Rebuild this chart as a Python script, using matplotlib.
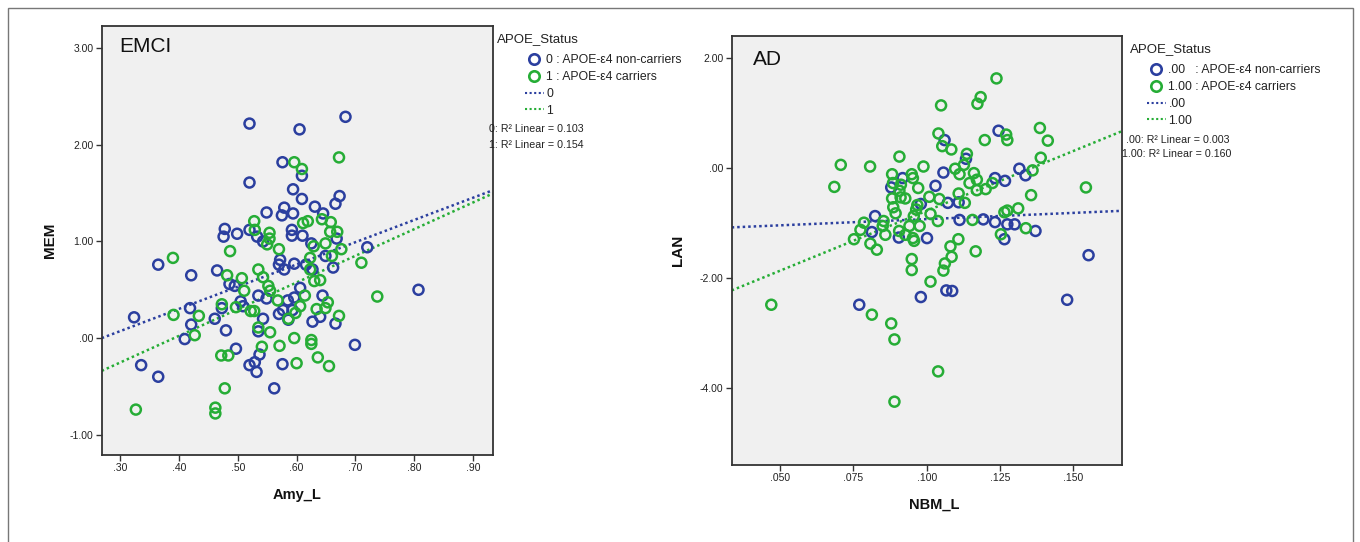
import matplotlib
matplotlib.use("Agg")
import matplotlib.pyplot as plt
from matplotlib.lines import Line2D
from matplotlib.patches import Rectangle
import numpy as np

plt.rcParams['font.family'] = ['Liberation Sans', 'DejaVu Sans']

# ---------------- DATA ----------------
# EMCI panel: Amy_L (x) vs MEM (y)
emci_nc_x = [0.324, 0.336, 0.365, 0.365, 0.421, 0.419, 0.421, 0.410, 0.465, 0.461, 0.473, 0.480,
             0.497, 0.478, 0.476, 0.499, 0.486, 0.495, 0.505, 0.509, 0.520, 0.520, 0.520, 0.533,
             0.543, 0.549, 0.535, 0.549, 0.543, 0.535, 0.537, 0.520, 0.529, 0.532, 0.562, 0.576,
             0.576, 0.579, 0.575, 0.572, 0.570, 0.579, 0.577, 0.570, 0.585, 0.596, 0.586, 0.593,
             0.594, 0.594, 0.592, 0.592, 0.596, 0.605, 0.609, 0.609, 0.610, 0.606, 0.616, 0.627,
             0.631, 0.625, 0.627, 0.640, 0.644, 0.645, 0.649, 0.662, 0.666, 0.666, 0.673, 0.668,
             0.683, 0.699, 0.720, 0.807]
emci_nc_y = [0.215, -0.28, 0.76, -0.40, 0.65, 0.31, 0.14, -0.01, 0.70, 0.20, 0.31, 0.08,
             -0.11, 1.13, 1.05, 1.08, 0.56, 0.54, 0.38, 0.33, 2.22, 1.61, 1.12, 1.05,
             1.00, 1.30, 0.44, 0.41, 0.20, 0.07, -0.17, -0.28, -0.25, -0.35, -0.52, -0.27,
             1.82, 1.35, 1.27, 0.81, 0.76, 0.71, 0.29, 0.25, 0.39, 0.42, 0.19, 0.29,
             1.54, 1.29, 1.12, 1.06, 0.77, 2.16, 1.68, 1.44, 1.06, 0.52, 0.76, 0.71,
             1.36, 0.98, 0.17, 0.22, 0.44, 1.29, 0.85, 0.73, 0.15, 1.39, 1.47, 1.03,
             2.29, -0.07, 0.94, 0.50]
emci_c_x = [0.327, 0.390, 0.391, 0.427, 0.434, 0.462, 0.462, 0.478, 0.472, 0.484, 0.473, 0.482,
            0.487, 0.497, 0.507, 0.511, 0.522, 0.528, 0.528, 0.529, 0.535, 0.535, 0.541, 0.543,
            0.550, 0.554, 0.554, 0.552, 0.555, 0.555, 0.570, 0.568, 0.571, 0.586, 0.596, 0.609,
            0.596, 0.600, 0.598, 0.606, 0.611, 0.619, 0.614, 0.623, 0.623, 0.629, 0.630, 0.625,
            0.625, 0.634, 0.636, 0.640, 0.643, 0.649, 0.649, 0.653, 0.655, 0.658, 0.660, 0.657,
            0.669, 0.672, 0.672, 0.676, 0.710, 0.737]
emci_c_y = [-0.74, 0.83, 0.24, 0.03, 0.23, -0.72, -0.78, -0.52, -0.18, -0.18, 0.35, 0.65,
            0.90, 0.32, 0.62, 0.49, 0.28, 0.28, 1.21, 1.12, 0.71, 0.11, -0.09, 0.63,
            0.97, 1.09, 1.03, 0.54, 0.49, 0.06, 0.92, 0.39, -0.08, 0.20, 1.82, 1.75,
            0.00, -0.26, 0.26, 0.33, 1.19, 1.21, 0.44, 0.83, 0.71, 0.95, 0.59, -0.02,
            -0.06, 0.30, -0.20, 0.60, 1.23, 0.98, 0.31, 0.37, -0.29, 1.20, 0.85, 1.10,
            1.10, 1.87, 0.23, 0.92, 0.78, 0.43]
# fitted lines (slope, intercept)
emci_fit_nc = (2.304, -0.620)
emci_fit_c = (2.764, -1.083)
emci_r2 = ["0: R\u00b2 Linear = 0.103", "1: R\u00b2 Linear = 0.154"]
emci_labels = ["0 : APOE-\u03b54 non-carriers", "1 : APOE-\u03b54 carriers", "0", "1"]
emci_xticks = [0.30, 0.40, 0.50, 0.60, 0.70, 0.80, 0.90]
emci_xticklabels = [".30", ".40", ".50", ".60", ".70", ".80", ".90"]
emci_yticks = [-1.0, 0.0, 1.0, 2.0, 3.0]
emci_yticklabels = ["-1.00", ".00", "1.00", "2.00", "3.00"]

# AD panel: NBM_L (x) vs LAN (y)
ad_nc_x = [0.0770, 0.0824, 0.0813, 0.0879, 0.0918, 0.0905, 0.0980, 0.0980, 0.1001, 0.1030,
           0.1057, 0.1061, 0.1072, 0.1067, 0.1087, 0.1109, 0.1112, 0.1134, 0.1193, 0.1233,
           0.1233, 0.1245, 0.1267, 0.1265, 0.1275, 0.1300, 0.1316, 0.1337, 0.1371, 0.1479,
           0.1552]
ad_nc_y = [-2.48, -0.87, -1.16, -0.35, -0.18, -1.26, -0.65, -2.34, -1.27, -0.32,
           -0.08, 0.51, -0.63, -2.22, -2.23, -0.62, -0.94, 0.17, -0.93, -0.18,
           -0.98, 0.68, -0.23, -1.29, -1.02, -1.02, -0.01, -0.13, -1.14, -2.39,
           -1.58]
ad_c_x = [0.0470, 0.0685, 0.0707, 0.0807, 0.0907, 0.0752, 0.0774, 0.0786, 0.0808, 0.0830,
          0.0813, 0.0853, 0.0850, 0.0859, 0.0879, 0.0890, 0.0890, 0.0882, 0.0885, 0.0912,
          0.0882, 0.0927, 0.0886, 0.0894, 0.0907, 0.0911, 0.0906, 0.0927, 0.0941, 0.0949,
          0.0953, 0.0971, 0.0968, 0.0964, 0.0956, 0.0976, 0.0953, 0.0957, 0.0949, 0.0949,
          0.0989, 0.1009, 0.1013, 0.1013, 0.1038, 0.1043, 0.1039, 0.1040, 0.1049, 0.1053,
          0.1062, 0.1057, 0.1084, 0.1081, 0.1085, 0.1097, 0.1112, 0.1109, 0.1108, 0.1127,
          0.1130, 0.1137, 0.1146, 0.1156, 0.1161, 0.1171, 0.1171, 0.1167, 0.1173, 0.1184,
          0.1198, 0.1201, 0.1224, 0.1238, 0.1253, 0.1265, 0.1275, 0.1271, 0.1275, 0.1312,
          0.1338, 0.1356, 0.1361, 0.1386, 0.1389, 0.1413, 0.1543]
ad_c_y = [-2.48, -0.34, 0.06, 0.03, 0.21, -1.29, -1.12, -0.99, -1.37, -1.48,
          -2.66, -0.96, -1.05, -1.21, -2.82, -3.11, -4.24, -0.11, -0.27, -0.30,
          -0.55, -0.55, -0.71, -0.82, -0.41, -0.53, -1.14, -1.21, -1.05, -0.11,
          -0.18, -0.36, -0.67, -0.75, -0.87, -1.05, -1.27, -1.32, -1.65, -1.85,
          0.03, -0.52, -0.83, -2.06, -0.96, -0.56, -3.69, 0.63, 1.14, 0.40,
          -1.73, -1.86, 0.34, -1.42, -1.61, -0.01, -0.11, -0.46, -1.29, 0.06,
          -0.63, 0.26, -0.27, -0.94, -0.09, -0.21, -0.40, -1.51, 1.17, 1.29,
          0.51, -0.38, -0.27, 1.63, -1.20, -0.80, -0.77, 0.61, 0.51, -0.73,
          -1.09, -0.49, -0.04, 0.73, 0.19, 0.50, -0.35]
ad_fit_nc = (2.26, -1.151)
ad_fit_c = (21.73, -2.948)
ad_r2 = [".00: R\u00b2 Linear = 0.003", "1.00: R\u00b2 Linear = 0.160"]
ad_labels = [".00   : APOE-\u03b54 non-carriers", "1.00 : APOE-\u03b54 carriers", ".00", "1.00"]
ad_xticks = [0.050, 0.075, 0.100, 0.125, 0.150]
ad_xticklabels = [".050", ".075", ".100", ".125", ".150"]
ad_yticks = [-4.0, -2.0, 0.0, 2.0]
ad_yticklabels = ["-4.00", "-2.00", ".00", "2.00"]

# ---------------- STYLE ----------------
BLUE = '#2b3f9f'
GREEN = '#26ad36'
W, H = 1360, 542
fig = plt.figure(figsize=(W / 100, H / 100), dpi=100)
fig.patch.set_facecolor('white')


def px(x0, y0):
    return x0 / W, 1 - y0 / H


def panel(rect, xs, ys, fits, xlim, ylim, xticks, xtl, yticks, ytl, title, title_xy,
          xlabel, xlab_xy, ylabel, ylab_xy, labels, leg_xy, status_xy, r2, r2_xy):
    ax = fig.add_axes(rect)
    ax.set_facecolor('#f0f0f0')
    for s in ax.spines.values():
        s.set_color('#333333')
        s.set_linewidth(1.3)
    cols = [BLUE, GREEN]
    for x, y, c in zip(xs, ys, cols):
        ax.scatter(x, y, s=52, facecolors='none', edgecolors=c, linewidths=1.8, zorder=3)
    xx = np.array(xlim)
    for (m, b), c in zip(fits, cols):
        ax.plot(xx, m * xx + b, color=c, lw=1.8, ls=(0, (1, 1.2)), zorder=2)
    ax.set_xlim(xlim)
    ax.set_ylim(ylim)
    ax.set_xticks(xticks)
    ax.set_xticklabels(xtl)
    ax.set_yticks(yticks)
    ax.set_yticklabels(ytl)
    ax.tick_params(direction='out', length=4, width=1, color='#333333', labelsize=7.5,
                   labelcolor='#222222', pad=2)
    ax.text(title_xy[0], title_xy[1], title, transform=ax.transAxes, fontsize=15,
            ha='left', va='center', color='#111111')
    ax.set_xlabel(xlabel, fontsize=10.5, fontweight='bold', color='#111111')
    ax.xaxis.set_label_coords(*xlab_xy)
    ax.xaxis.label.set_va('center')
    ax.set_ylabel(ylabel, fontsize=11, fontweight='bold', color='#111111')
    ax.yaxis.set_label_coords(*ylab_xy)
    ax.yaxis.label.set_va('center')

    fig.text(*px(*status_xy), "APOE_Status", fontsize=9.5, ha='left', va='center', color='#222222')
    handles = [
        Line2D([], [], ls='none', marker='o', markersize=7.5, markerfacecolor='none',
               markeredgecolor=BLUE, markeredgewidth=1.9),
        Line2D([], [], ls='none', marker='o', markersize=7.5, markerfacecolor='none',
               markeredgecolor=GREEN, markeredgewidth=1.9),
        Line2D([], [], color=BLUE, lw=1.5, ls=(0, (1, 1.2))),
        Line2D([], [], color=GREEN, lw=1.5, ls=(0, (1, 1.2))),
    ]
    leg = fig.legend(handles, labels, loc='upper left', bbox_to_anchor=px(*leg_xy),
                     bbox_transform=fig.transFigure, frameon=False, fontsize=8.8,
                     handlelength=1.55, handletextpad=0.2, labelspacing=0.4, borderpad=0,
                     borderaxespad=0)
    for t in leg.get_texts():
        t.set_color('#222222')
    for txt, (xr, yr) in zip(r2, r2_xy):
        fig.text(*px(xr, yr), txt, fontsize=7.7, ha='left', va='center', color='#222222')
    return ax


panel([101.7 / W, 1 - 455 / H, 391 / W, 429 / H],
      [emci_nc_x, emci_c_x], [emci_nc_y, emci_c_y], [emci_fit_nc, emci_fit_c],
      (0.269, 0.933), (-1.21, 3.23), emci_xticks, emci_xticklabels, emci_yticks, emci_yticklabels,
      "EMCI", (0.045, 0.952), "Amy_L", (0.5, -0.093), "MEM", (-0.132, 0.5),
      emci_labels, (525, 54), (497, 39), emci_r2, [(489, 129), (489, 145)])

panel([731.7 / W, 1 - 465 / H, 390 / W, 429 / H],
      [ad_nc_x, ad_c_x], [ad_nc_y, ad_c_y], [ad_fit_nc, ad_fit_c],
      (0.0335, 0.1665), (-5.39, 2.4), ad_xticks, ad_xticklabels, ad_yticks, ad_yticklabels,
      "AD", (0.054, 0.946), "NBM_L", (0.519, -0.093), "LAN", (-0.138, 0.5),
      ad_labels, (1147, 64), (1130, 49), ad_r2, [(1126, 140), (1122, 154)])

fig.add_artist(Rectangle((8 / W, -0.1), (1353 - 8) / W, 1.1 - 8 / H, transform=fig.transFigure,
                         fill=False, edgecolor='#777777', lw=1.0))

fig.savefig('out.png', dpi=100)
